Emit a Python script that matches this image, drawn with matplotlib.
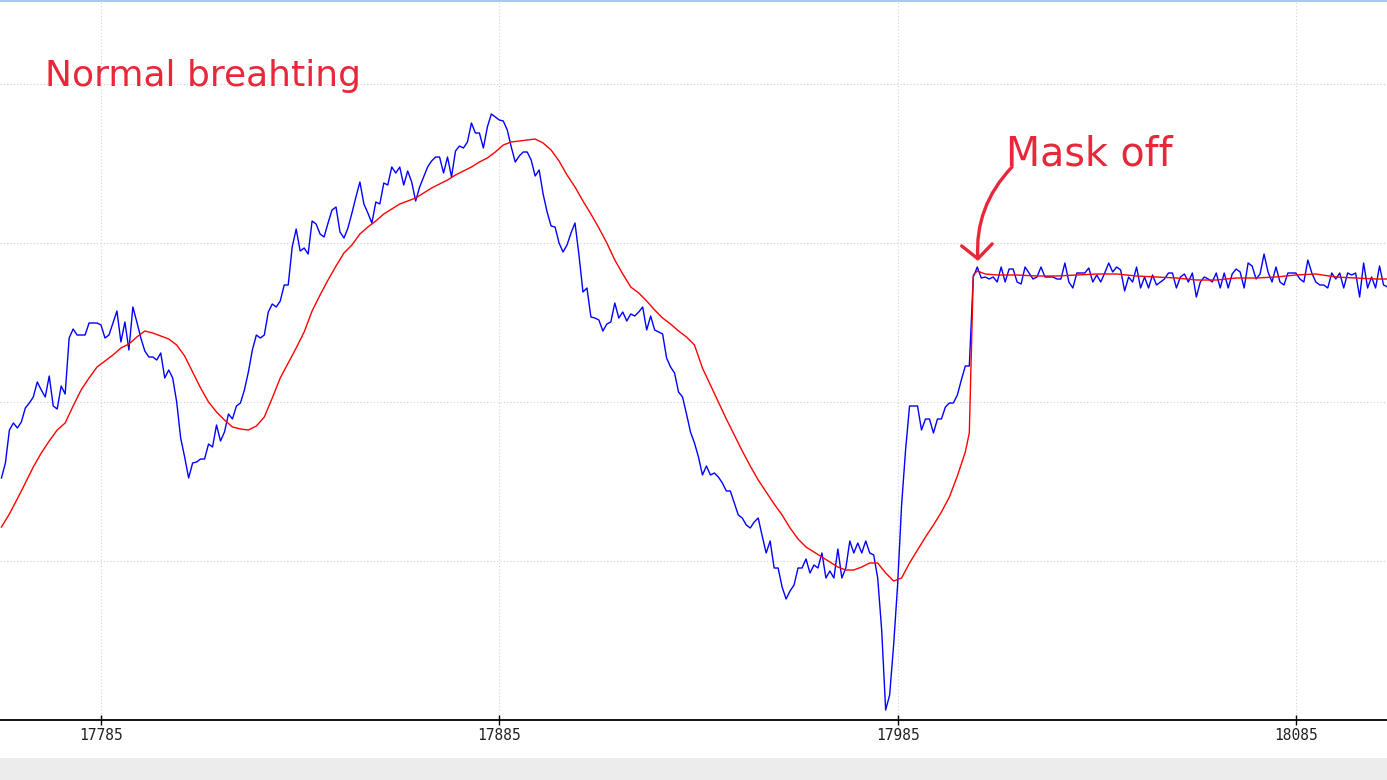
import numpy as np
import matplotlib
matplotlib.use("Agg")
import matplotlib.pyplot as plt
from matplotlib.patches import Rectangle

# ---------------- data ----------------
x_start = 17760
raw_values = [
    242, 257, 290, 297, 292, 298, 312, 317, 323, 338,
    330, 323, 344, 314, 311, 334, 326, 382, 391, 385,
    385, 385, 397, 397, 397, 395, 382, 385, 397, 409,
    378, 398, 370, 413, 398, 382, 369, 363, 363, 360,
    367, 342, 350, 342, 318, 282, 263, 242, 257, 258,
    261, 261, 276, 273, 295, 279, 288, 306, 301, 314,
    317, 330, 348, 370, 385, 382, 385, 408, 416, 413,
    419, 435, 435, 473, 491, 469, 472, 466, 499, 496,
    486, 483, 497, 510, 513, 488, 482, 492, 507, 523,
    538, 516, 507, 497, 518, 516, 537, 535, 553, 547,
    553, 535, 549, 538, 519, 533, 543, 553, 559, 563,
    563, 547, 563, 543, 569, 574, 572, 578, 597, 587,
    587, 572, 593, 606, 603, 600, 599, 590, 573, 558,
    564, 568, 568, 560, 544, 550, 526, 508, 494, 493,
    477, 468, 475, 487, 497, 465, 428, 432, 403, 402,
    400, 389, 396, 398, 417, 402, 408, 399, 406, 404,
    408, 413, 390, 404, 390, 388, 386, 362, 353, 347,
    328, 323, 306, 288, 277, 263, 245, 254, 245, 247,
    243, 237, 229, 229, 217, 205, 202, 195, 192, 198,
    202, 184, 167, 179, 152, 152, 133, 121, 129, 135,
    152, 152, 161, 147, 155, 152, 167, 142, 149, 142,
    171, 142, 152, 179, 167, 177, 167, 179, 167, 165,
    142, 90, 10, 25, 75, 135, 215, 270, 314, 314,
    314, 290, 301, 301, 287, 301, 301, 313, 317, 317,
    325, 340, 354, 354, 443, 453, 442, 443, 441, 443,
    438, 453, 438, 451, 451, 438, 436, 453, 447, 441,
    443, 453, 443, 443, 443, 441, 441, 457, 438, 432,
    447, 447, 447, 452, 438, 445, 438, 447, 457, 448,
    453, 450, 429, 443, 438, 453, 432, 443, 432, 445,
    435, 438, 441, 447, 447, 432, 443, 446, 438, 447,
    423, 438, 443, 441, 438, 447, 432, 447, 432, 446,
    451, 448, 432, 457, 454, 441, 446, 466, 448, 438,
    453, 438, 435, 447, 447, 447, 441, 438, 460, 447,
    438, 435, 435, 432, 447, 441, 447, 432, 447, 445,
    447, 423, 457, 432, 443, 432, 454, 435, 433,
]
raw_x = list(range(x_start, x_start + len(raw_values)))

smooth_x = [
    17760, 17762, 17765, 17768, 17770, 17772, 17774, 17776, 17778, 17780,
    17782, 17784, 17786, 17788, 17790, 17792, 17794, 17796, 17798, 17800,
    17802, 17804, 17806, 17808, 17810, 17812, 17814, 17816, 17818, 17820,
    17822, 17824, 17826, 17828, 17830, 17832, 17834, 17836, 17838, 17840,
    17842, 17844, 17846, 17848, 17850, 17852, 17854, 17856, 17858, 17860,
    17862, 17864, 17866, 17868, 17870, 17872, 17874, 17876, 17878, 17880,
    17882, 17884, 17886, 17888, 17890, 17892, 17894, 17896, 17898, 17900,
    17902, 17904, 17906, 17908, 17910, 17912, 17914, 17916, 17918, 17920,
    17922, 17924, 17926, 17928, 17930, 17932, 17934, 17936, 17938, 17940,
    17942, 17944, 17946, 17948, 17950, 17952, 17954, 17956, 17958, 17960,
    17962, 17964, 17966, 17968, 17970, 17972, 17974, 17976, 17978, 17980,
    17982, 17984, 17986, 17988, 17990, 17992, 17994, 17996, 17998, 18000,
    18002, 18003, 18004, 18005, 18007, 18010, 18015, 18020, 18025, 18030,
    18035, 18040, 18045, 18050, 18055, 18060, 18065, 18070, 18075, 18080,
    18085, 18090, 18095, 18100, 18105, 18108,
]
smooth_values = [
    193, 206, 229, 253, 267, 279, 290, 297, 314, 330,
    342, 353, 359, 365, 372, 376, 383, 389, 387, 384,
    381, 375, 364, 348, 332, 318, 308, 300, 293, 291,
    290, 294, 303, 322, 342, 357, 372, 388, 409, 425,
    440, 454, 467, 475, 486, 493, 499, 506, 511, 516,
    519, 522, 527, 532, 536, 540, 545, 549, 553, 558,
    562, 568, 575, 578, 579, 580, 581, 577, 570, 559,
    545, 533, 519, 506, 492, 477, 460, 446, 433, 427,
    419, 410, 402, 396, 389, 383, 375, 352, 335, 318,
    301, 285, 269, 254, 240, 228, 216, 205, 192, 181,
    173, 168, 163, 158, 153, 150, 150, 153, 157, 157,
    147, 139, 142, 157, 170, 183, 195, 208, 223, 244,
    268, 287, 445, 449, 446, 445, 445, 444, 444, 445,
    446, 446, 444, 443, 442, 440, 440, 442, 442, 443,
    445, 446, 443, 442, 441, 441,
]

xticks = [17785, 17885, 17985, 18085]
hgrid = [159, 318, 477, 636]

label_left = "Normal breahting"
label_right = "Mask off"

# ---------------- figure ----------------
W, H, DPI = 1387, 780, 100
fig = plt.figure(figsize=(W / DPI, H / DPI), dpi=DPI, facecolor="white")
ax = fig.add_axes([0, 60 / H, 1, 720 / H])
ax.set_facecolor("white")

# grid lines
for yv in hgrid:
    ax.axhline(yv, color="#c9cfc9", lw=0.8, ls=(0, (1, 2)), zorder=0)
for xv in xticks:
    ax.axvline(xv, color="#d9cfe6", lw=0.8, ls=(0, (1, 2)), zorder=0)

ax.plot(raw_x, raw_values, color="#0000ff", lw=1.0, zorder=3)
ax.plot(smooth_x, smooth_values, color="#ff0000", lw=1.0, zorder=4)

ax.set_xlim(17759.64, 18107.87)
ax.set_ylim(0, 720)

for s in ["top", "left", "right"]:
    ax.spines[s].set_visible(False)
ax.spines["bottom"].set_color("black")
ax.spines["bottom"].set_linewidth(1.3)
ax.set_yticks([])
ax.set_xticks(xticks)
ax.set_xticklabels([str(t) for t in xticks], family="DejaVu Sans Mono",
                   fontsize=10.5, color="#202020")
ax.tick_params(axis="x", direction="inout", length=7, width=1, pad=2,
               color="black")

red = "#e8283a"
ax.text(45 / W, (720 - 86) / 720, label_left, transform=ax.transAxes,
        fontsize=26, color=red, ha="left", va="baseline",
        family="DejaVu Sans")
ax.text(1006 / W, (720 - 165) / 720, label_right, transform=ax.transAxes,
        fontsize=28.5, color=red, ha="left", va="baseline",
        family="DejaVu Sans")
ax.annotate("", xy=(978 / W, (720 - 261) / 720),
            xytext=(1012 / W, (720 - 167) / 720),
            xycoords="axes fraction", textcoords="axes fraction",
            arrowprops=dict(arrowstyle="->,head_length=0.5,head_width=0.55",
                            color=red, lw=2.4, mutation_scale=20,
                            shrinkA=0, shrinkB=0,
                            connectionstyle="arc3,rad=0.22"))

# frame decorations (screenshot border / bottom strip)
fig.patches.append(Rectangle((0, 0), 1, 22 / H, transform=fig.transFigure,
                             facecolor="#ececec", edgecolor="none", zorder=0))
fig.patches.append(Rectangle((0, 1 - 2 / H), 1, 2 / H, transform=fig.transFigure,
                             facecolor="#a9c8ec", edgecolor="none", zorder=5))

fig.savefig("out.png", dpi=DPI, facecolor="white")
